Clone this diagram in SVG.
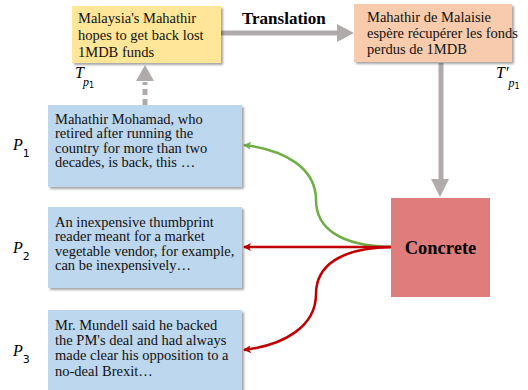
<svg xmlns="http://www.w3.org/2000/svg" width="528" height="390" viewBox="0 0 528 390">
<style>
.t{font-family:"Liberation Serif","Times New Roman",serif;font-size:14.5px;fill:#111}
.b{font-family:"Liberation Serif","Times New Roman",serif;font-weight:bold;fill:#000}
.m{font-family:"Liberation Serif","Times New Roman",serif;font-style:italic;fill:#000}
.s{font-family:"DejaVu Sans",sans-serif;font-style:normal}
.g{stroke:#AFABAB;stroke-width:5;fill:none}
</style>
<defs>
<filter id="sh" x="-10%" y="-10%" width="125%" height="130%">
<feDropShadow dx="2" dy="2" stdDeviation="1.2" flood-color="#000" flood-opacity="0.35"/>
</filter>
<marker id="ag" markerWidth="8" markerHeight="8" refX="7" refY="4" orient="auto" markerUnits="userSpaceOnUse"><path d="M0,0 L8,4 L0,8 L2,4 Z" fill="#70AD47"/></marker>
<marker id="ar" markerWidth="8" markerHeight="8" refX="7" refY="4" orient="auto" markerUnits="userSpaceOnUse"><path d="M0,0 L8,4 L0,8 L2,4 Z" fill="#C00000"/></marker>
</defs>

<g id="connectors">
<line class="g" x1="221" y1="33" x2="339" y2="33"/>
<polygon points="337,24 354,33 337,42" fill="#AFABAB"/>
<line class="g" x1="441" y1="63" x2="441" y2="181"/>
<polygon points="431,179 449,179 440,197" fill="#AFABAB"/>
<line class="g" x1="145" y1="105" x2="145" y2="82" stroke-dasharray="6,4"/>
<polygon points="136,81 154,81 145,65" fill="#AFABAB"/>
<path d="M391,247 C340,246 316,228 316,200 C316,168 285,150 244,145" stroke="#70AD47" stroke-width="2.5" fill="none" marker-end="url(#ag)"/>
<line x1="391" y1="247" x2="244" y2="247" stroke="#C00000" stroke-width="2.5" marker-end="url(#ar)"/>
<path d="M391,247 C340,248 316,266 316,294 C316,326 285,345 244,350" stroke="#C00000" stroke-width="2.5" fill="none" marker-end="url(#ar)"/>
<text class="b" x="242" y="24" font-size="17">Translation</text>
</g>

<g id="source">
<rect x="72" y="6" width="149" height="57" fill="#FFE699" filter="url(#sh)"/>
<text class="t"><tspan x="78" y="23">Malaysia's Mahathir</tspan><tspan x="78" y="40">hopes to get back lost</tspan><tspan x="78" y="57">1MDB funds</tspan></text>
<text class="m" x="75" y="78" font-size="16">T<tspan font-size="12" dx="-1" dy="8">p</tspan><tspan class="s" font-size="8" dy="2">1</tspan></text>
</g>

<g id="translated">
<rect x="354" y="4" width="158" height="58" fill="#F8CBAD" filter="url(#sh)"/>
<text class="t"><tspan x="367" y="22">Mahathir de Malaisie</tspan><tspan x="367" y="38">espère récupérer les fonds</tspan><tspan x="367" y="54">perdus de 1MDB</tspan></text>
<text class="m" x="496" y="78" font-size="16">T′<tspan font-size="12" dy="9">p</tspan><tspan class="s" font-size="8" dy="2">1</tspan></text>
</g>

<g id="p1">
<rect x="48" y="105" width="194" height="82" fill="#BDD7EE" filter="url(#sh)"/>
<text class="t"><tspan x="55" y="123.5">Mahathir Mohamad, who</tspan><tspan x="55" y="138">retired after running the</tspan><tspan x="55" y="152.5">country for more than two</tspan><tspan x="55" y="167">decades, is back, this …</tspan></text>
<text class="m" x="13" y="150" font-size="16">P<tspan class="s" font-size="11" dy="7">1</tspan></text>
</g>

<g id="p2">
<rect x="48" y="207" width="194" height="81" fill="#BDD7EE" filter="url(#sh)"/>
<text class="t"><tspan x="55" y="226.5">An inexpensive thumbprint</tspan><tspan x="55" y="241">reader meant for a market</tspan><tspan x="55" y="255.5">vegetable vendor, for example,</tspan><tspan x="55" y="270">can be inexpensively…</tspan></text>
<text class="m" x="13" y="253" font-size="16">P<tspan class="s" font-size="11" dy="7">2</tspan></text>
</g>

<g id="p3">
<rect x="48" y="310" width="194" height="82" fill="#BDD7EE" filter="url(#sh)"/>
<text class="t"><tspan x="55" y="330">Mr. Mundell said he backed</tspan><tspan x="55" y="345">the PM's deal and had always</tspan><tspan x="55" y="360">made clear his opposition to a</tspan><tspan x="55" y="376">no-deal Brexit…</tspan></text>
<text class="m" x="13" y="356" font-size="16">P<tspan class="s" font-size="11" dy="7">3</tspan></text>
</g>

<g id="concrete">
<rect x="391" y="198" width="99" height="99" fill="#DF7D7D"/>
<text class="b" x="440.5" y="254" font-size="18.5" text-anchor="middle">Concrete</text>
</g>
</svg>
